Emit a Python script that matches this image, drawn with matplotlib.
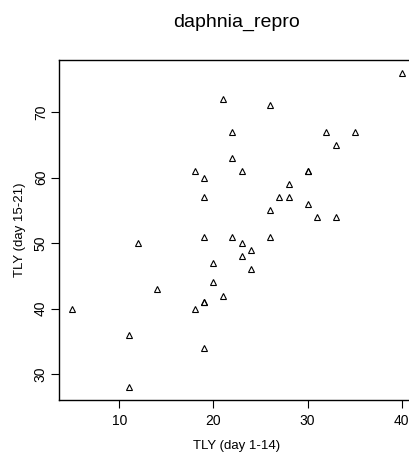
import numpy as np
import matplotlib.pyplot as plt

plt.rcParams['font.family'] = ['Liberation Sans', 'DejaVu Sans']

#----データ----------------------------------------------------------
tly_early = [5, 11, 11, 12, 14, 18, 18, 19, 19, 19, 19, 19, 19,
             20, 20, 21, 21, 22, 22, 22, 23, 23, 23, 24, 24,
             26, 26, 26, 27, 28, 28, 30, 30, 30, 31, 32, 33, 33, 35, 40]
tly_late = [40, 36, 28, 50, 43, 61, 40, 60, 57, 51, 41, 41, 34,
            47, 44, 72, 42, 67, 63, 51, 61, 50, 48, 49, 46,
            71, 55, 51, 57, 59, 57, 61, 61, 56, 54, 67, 65, 54, 67, 76]

#----描画------------------------------------------------------------
W, H = 409, 455
fig = plt.figure(figsize=(W/100, H/100), dpi=100)
ax = fig.add_axes([59/W, (H-400)/H, (415-59)/W, (400-60)/H])

ax.plot(tly_early, tly_late, linestyle='none', marker='^', markersize=5,
        markerfacecolor='none', markeredgecolor='black', markeredgewidth=0.8)

xr = max(tly_early) - min(tly_early)
yr = max(tly_late) - min(tly_late)
ax.set_xlim(min(tly_early) - 0.04*xr, max(tly_early) + 0.04*xr)
ax.set_ylim(min(tly_late) - 0.04*yr, max(tly_late) + 0.04*yr)

ax.set_xticks([10, 20, 30, 40])
ax.set_yticks([30, 40, 50, 60, 70])
ax.tick_params(direction='out', length=6, width=0.8, labelsize=10)
ax.tick_params(axis='x', pad=4)
ax.tick_params(axis='y', pad=2)
plt.setp(ax.get_yticklabels(), rotation=90, va='center')
for s in ax.spines.values():
    s.set_linewidth(1.0)

ax.set_xlabel('TLY (day 1-14)', fontsize=9.5, labelpad=9)
ax.set_ylabel('TLY (day 15-21)', fontsize=9.5, labelpad=6)
ax.set_title('daphnia_repro', fontsize=14, pad=24)

fig.savefig('out.png', dpi=100)
